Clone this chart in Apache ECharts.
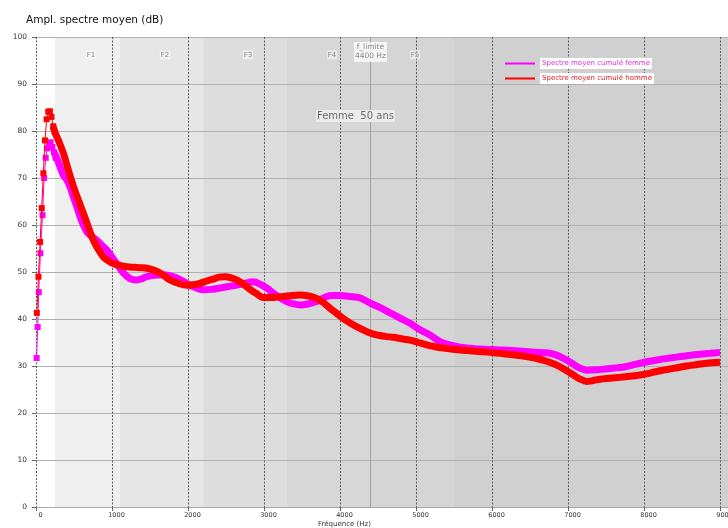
<!DOCTYPE html>
<html><head><meta charset="utf-8">
<script src="https://cdn.jsdelivr.net/npm/echarts@6/dist/echarts.min.js"></script>
<style>html,body{margin:0;padding:0;background:#fff}#c{width:728px;height:528px}</style>
</head><body><div id="c"></div>
<script>
// ---- data ----
const xMax = 9105;
const bandEdges = [250, 1100, 2200, 3300, 4400, 5500, xMax];
const bandColors = ['#efefef', '#e6e6e6', '#dddddd', '#d7d7d7', '#d5d5d5', '#d0d0d0'];
const formantNames = ['F1', 'F2', 'F3', 'F4', 'F5'];
const formantFreqs = [724, 1697, 2789, 3895, 4987];
const fLimite = 4400;

const femmePts = [[8,31.7],[22,38.3],[36,45.7],[58,54],[86,62.1],[107,70],[128,74.3],[150,76.3],[172,77.4],[193,77.6],[215,76.6],[236,75.5],[258,74.3]];
const femmeLine = [[236,75.5],[272,74.3],[316,72.4],[360,70.6],[404,69.6],[450,68],[491,66],[535,64],[579,61.8],[623,60],[667,58.6],[730,57.6],[798,56.8],[860,55.8],[930,54.7],[1000,53.2],[1061,51.8],[1149,49.8],[1237,48.6],[1325,48.3],[1400,48.6],[1456,49],[1560,49.3],[1675,49.4],[1760,49.2],[1851,48.7],[1940,48],[2026,47.2],[2110,46.6],[2201,46.2],[2310,46.3],[2421,46.6],[2530,46.9],[2640,47.2],[2750,47.6],[2860,47.9],[2950,47.4],[3035,46.6],[3123,45.5],[3210,44.5],[3298,43.7],[3390,43.2],[3474,43],[3580,43.2],[3693,43.7],[3825,44.8],[3910,45],[4000,45],[4130,44.8],[4263,44.5],[4395,43.4],[4530,42.4],[4658,41.3],[4790,40.2],[4921,39.1],[5053,37.7],[5184,36.6],[5316,35.2],[5447,34.5],[5580,34],[5711,33.8],[5850,33.6],[5974,33.5],[6150,33.4],[6350,33.2],[6530,33],[6719,32.8],[6850,32.3],[6939,31.6],[7030,30.8],[7114,29.9],[7180,29.4],[7246,29.1],[7380,29.2],[7509,29.4],[7640,29.6],[7772,29.9],[7900,30.4],[8035,30.9],[8210,31.4],[8386,31.8],[8560,32.2],[8737,32.5],[8870,32.7],[9000,32.9]];

const hommePts = [[11,41.3],[32,49],[54,56.4],[75,63.6],[97,71],[118,78],[140,82.5],[161,84.1],[183,84.2],[204,83],[226,81],[247,79.8]];
const hommeLine = [[226,81],[247,79.8],[300,77.8],[360,75.3],[420,72],[491,68.3],[560,65.2],[623,62.5],[690,59.5],[754,56.8],[820,54.8],[886,53.2],[950,52.4],[1017,51.8],[1100,51.4],[1193,51.1],[1300,51],[1400,50.9],[1456,50.8],[1550,50.4],[1632,49.8],[1700,49],[1763,48.3],[1870,47.6],[1982,47.2],[2070,47.3],[2158,47.6],[2250,48.1],[2333,48.5],[2410,48.9],[2487,49],[2560,48.8],[2640,48.3],[2730,47.4],[2816,46.3],[2900,45.4],[2991,44.6],[3120,44.6],[3254,44.8],[3370,45],[3474,45.1],[3590,44.9],[3693,44.4],[3780,43.5],[3868,42.3],[3955,41.2],[4044,40.1],[4150,39],[4263,38],[4370,37.2],[4482,36.6],[4590,36.3],[4702,36.1],[4810,35.8],[4921,35.5],[5030,35],[5140,34.5],[5250,34.1],[5360,33.8],[5510,33.5],[5667,33.3],[5820,33.1],[5974,32.9],[6150,32.6],[6325,32.3],[6450,32],[6588,31.6],[6720,31],[6851,30.2],[6960,29.2],[7070,28.1],[7160,27.2],[7246,26.7],[7330,26.9],[7421,27.2],[7550,27.4],[7684,27.6],[7815,27.8],[7947,28.1],[8080,28.5],[8211,29],[8390,29.5],[8561,30],[8700,30.3],[8825,30.6],[9000,30.8]];

const nameF = 'Spectre moyen cumulé femme';
const nameH = 'Spectre moyen cumulé homme';
const FONT = 'DejaVu Sans';

// ---- chart ----
const chart = echarts.init(document.getElementById('c'), null, {renderer: 'canvas'});
const areas = [];
for (let i = 0; i < bandColors.length; i++) {
  areas.push([{xAxis: bandEdges[i], yAxis: 0, itemStyle: {color: bandColors[i]}}, {xAxis: bandEdges[i + 1], yAxis: 100}]);
}
const fPoints = formantNames.map((n, i) => ({name: n, coord: [formantFreqs[i], 96.2]}));
fPoints.push({name: 'f_limite\n' + fLimite + ' Hz', coord: [fLimite, 96.8],
  label: {align: 'center', lineHeight: 9, fontSize: 7.5, backgroundColor: 'rgba(255,255,255,0.75)', padding: [1, 1]}});

const splitColors = [];
for (let v = 0; v <= 9000; v += 1000) splitColors.push('#5a5a5a');
splitColors.push('rgba(0,0,0,0)');

chart.setOption({
  animation: false,
  backgroundColor: '#fff',
  title: {text: 'Ampl. spectre moyen (dB)', left: 26, top: 15, padding: 0,
    textStyle: {fontFamily: FONT, fontSize: 10.5, fontWeight: 'normal', color: '#111'}},
  legend: {orient: 'vertical', left: 505, top: 58, itemWidth: 30, itemHeight: 2, itemGap: 4, icon: 'rect',
    selectedMode: false, padding: 0,
    data: [{name: nameF, textStyle: {color: '#e030e0'}}, {name: nameH, textStyle: {color: '#e02020'}}],
    textStyle: {fontFamily: FONT, fontSize: 7, lineHeight: 9, backgroundColor: '#fff', padding: [1, 2]}},
  grid: {left: 36, right: 0, top: 37, bottom: 21, containLabel: false, outerBoundsMode: 'none'},
  xAxis: {type: 'value', min: 0, max: xMax, interval: 1000, z: 1.5,
    axisLine: {show: true, lineStyle: {color: '#a8a8a8', width: 1}},
    axisTick: {show: true, length: 4, lineStyle: {color: '#666'}},
    axisLabel: {fontFamily: FONT, fontSize: 6.5, color: '#333', margin: 5, padding: [0, 0, 0, 9],
      showMaxLabel: false, hideOverlap: false, formatter: v => (v % 1000 === 0 ? String(v) : '')},
    splitLine: {show: true, lineStyle: {color: splitColors, type: [2, 1.5], width: 1}}},
  yAxis: {type: 'value', min: 0, max: 100, interval: 10, z: 1.5,
    axisLine: {show: false},
    axisTick: {show: true, length: 4, lineStyle: {color: '#666'}},
    axisLabel: {fontFamily: FONT, fontSize: 7.5, color: '#333', margin: 9},
    splitLine: {show: true, lineStyle: {color: '#b0b0b0', width: 1, type: 'solid'}}},
  graphic: [
    {type: 'text', left: 318, top: 521, style: {text: 'Fréquence (Hz)', font: '7px "DejaVu Sans"', fill: '#333'}},
    {type: 'text', left: 316, top: 110, z: 10, style: {text: 'Femme  50 ans', font: '10px "DejaVu Sans"', fill: '#6a6a6a',
      backgroundColor: '#ececec', padding: [1, 1]}}
  ],
  series: [
    {name: 'bands', type: 'line', data: [], z: 1,
      markArea: {silent: true, z: 1, data: areas, label: {show: false}},
      markLine: {silent: true, z: 1.6, symbol: ['none', 'none'], label: {show: false},
        lineStyle: {color: '#a0a0a0', type: 'solid', width: 1}, data: [{xAxis: fLimite}]},
      markPoint: {silent: true, z: 5, symbol: 'rect', symbolSize: 1, itemStyle: {color: 'rgba(0,0,0,0)'},
        label: {show: true, position: 'inside', formatter: '{b}', fontFamily: FONT, fontSize: 7, color: '#8a8a8a',
          backgroundColor: 'rgba(255,255,255,0.45)', padding: [1, 1]},
        data: fPoints}},
    {name: nameF, type: 'line', data: femmeLine, z: 3, showSymbol: false, symbol: 'none', smooth: 0.3,
      itemStyle: {color: '#ff00ff'}, lineStyle: {color: '#ff00ff', width: 7}},
    {name: 'femmePts', type: 'line', data: femmePts, z: 3, symbol: 'rect', symbolSize: 6,
      itemStyle: {color: '#ff00ff'}, lineStyle: {color: '#ff00ff', width: 1}},
    {name: nameH, type: 'line', data: hommeLine, z: 4, showSymbol: false, symbol: 'none', smooth: 0.3,
      itemStyle: {color: '#ff0000'}, lineStyle: {color: '#ff0000', width: 7}},
    {name: 'hommePts', type: 'line', data: hommePts, z: 4, symbol: 'rect', symbolSize: 6,
      itemStyle: {color: '#ff0000'}, lineStyle: {color: '#ff0000', width: 1}}
  ]
});
</script></body></html>
